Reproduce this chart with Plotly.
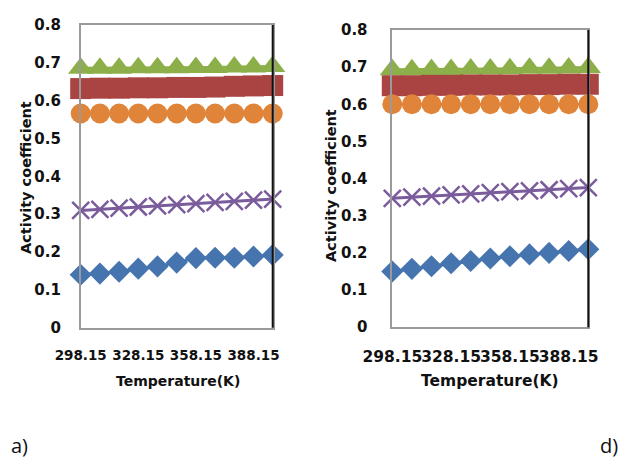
import plotly.graph_objects as go

temps = ["298.15", "308.15", "318.15", "328.15", "338.15", "348.15",
         "358.15", "368.15", "378.15", "388.15", "398.15"]
tick_labels = ["298.15", "328.15", "358.15", "388.15"]
y_ticks = [0, 0.1, 0.2, 0.3, 0.4, 0.5, 0.6, 0.7, 0.8]
y_tick_text = ["0", "0.1", "0.2", "0.3", "0.4", "0.5", "0.6", "0.7", "0.8"]

# panel a)
a_blue = [0.140, 0.143, 0.148, 0.156, 0.162, 0.172, 0.184, 0.185, 0.185, 0.188, 0.192]
a_red = [0.632, 0.633, 0.633, 0.634, 0.634, 0.635, 0.635, 0.636, 0.638, 0.639, 0.640]
a_green = [0.686, 0.686, 0.686, 0.687, 0.687, 0.687, 0.688, 0.688, 0.689, 0.689, 0.690]
a_purple = [0.310, 0.313, 0.316, 0.319, 0.322, 0.325, 0.328, 0.331, 0.334, 0.337, 0.340]
a_orange = [0.566, 0.566, 0.566, 0.566, 0.566, 0.566, 0.566, 0.566, 0.566, 0.566, 0.566]

# panel d)
d_blue = [0.150, 0.157, 0.164, 0.172, 0.178, 0.185, 0.191, 0.196, 0.200, 0.205, 0.210]
d_red = [0.650, 0.650, 0.651, 0.651, 0.652, 0.652, 0.652, 0.653, 0.653, 0.654, 0.654]
d_green = [0.693, 0.693, 0.694, 0.694, 0.695, 0.695, 0.696, 0.697, 0.697, 0.698, 0.699]
d_purple = [0.347, 0.350, 0.353, 0.356, 0.359, 0.362, 0.365, 0.367, 0.370, 0.373, 0.376]
d_orange = [0.600, 0.600, 0.600, 0.600, 0.600, 0.600, 0.600, 0.600, 0.600, 0.600, 0.600]

BLUE = "#4674AE"
RED = "#A94443"
GREEN = "#8CAF4A"
PURPLE = "#7A5C9C"
ORANGE = "#E0843A"

fig = go.Figure()

def add_series(xa, ya, vals, color, symbol, size, open_x=False):
    marker = dict(symbol=symbol, size=size, color=color, line=dict(width=0))
    if open_x:
        marker["line"] = dict(color=color, width=2.5)
    fig.add_trace(go.Scatter(
        x=temps, y=vals, xaxis=xa, yaxis=ya, mode="lines+markers",
        line=dict(color=color, width=3), marker=marker,
        cliponaxis=False, showlegend=False))

for xa, ya, b, r, g, p, o in [("x", "y", a_blue, a_red, a_green, a_purple, a_orange),
                              ("x2", "y2", d_blue, d_red, d_green, d_purple, d_orange)]:
    add_series(xa, ya, b, BLUE, "diamond", 17)
    add_series(xa, ya, g, GREEN, "triangle-up", 22)
    add_series(xa, ya, r, RED, "square", 21)
    add_series(xa, ya, p, PURPLE, "x-thin-open", 17, open_x=True)
    add_series(xa, ya, o, ORANGE, "circle", 20)

bold = lambda s: f"<b>{s}</b>"

def xaxis(domain, anchor, fsize):
    return dict(domain=domain, anchor=anchor, type="category", range=[0, 10],
                tickvals=tick_labels, ticktext=[bold(t) for t in tick_labels],
                tickfont=dict(family="DejaVu Sans", size=fsize, color="#111111"),
                tickangle=0, automargin=False,
                showgrid=False, zeroline=False, showline=True, linecolor="#9a9a9a",
                linewidth=1.5, mirror=True, ticks="", ticklabelstandoff=14)

def yaxis(domain, anchor, standoff):
    return dict(domain=domain, anchor=anchor, range=[0, 0.8], tickvals=y_ticks,
                ticktext=[bold(t) for t in y_tick_text],
                tickfont=dict(family="DejaVu Sans", size=15, color="#111111"),
                automargin=False, showgrid=False,
                zeroline=False, showline=True, linecolor="#9a9a9a", linewidth=1.5,
                mirror=True, ticks="", ticklabelstandoff=standoff)

fig.update_layout(
    width=625, height=461, margin=dict(l=0, r=0, t=0, b=0, autoexpand=False),
    paper_bgcolor="white", plot_bgcolor="white",
    xaxis=xaxis([80.7 / 625, 272.7 / 625], "y", 13.5),
    yaxis=yaxis([(461 - 327.7) / 461, (461 - 25) / 461], "x", 15),
    xaxis2=xaxis([392.3 / 625, 588.3 / 625], "y2", 15.5),
    yaxis2=yaxis([(461 - 327.2) / 461, (461 - 30) / 461], "x2", 20),
)

# darker right frame line, as in the reference
for xa, ya in [("x", "y"), ("x2", "y2")]:
    fig.add_shape(type="line", xref=f"{xa} domain", yref=f"{ya} domain",
                  x0=1, x1=1, y0=0, y1=1, line=dict(color="#111111", width=2))

annots = [
    dict(x=26, y=178, text="Activity coefficient", textangle=-90, size=14.5),
    dict(x=331, y=186, text="Activity coefficient", textangle=-90, size=14.5),
    dict(x=178, y=381, text="Temperature(K)", size=14),
    dict(x=490, y=381, text="Temperature(K)", size=15.5),
]
for a in annots:
    fig.add_annotation(xref="paper", yref="paper", x=a["x"] / 625, y=1 - a["y"] / 461,
                       text=bold(a["text"]), textangle=a.get("textangle", 0),
                       showarrow=False,
                       font=dict(family="DejaVu Sans", size=a["size"], color="#111111"),
                       xanchor="center", yanchor="middle")

labelfont = dict(family="Open Sans", size=20, color="#111111")
fig.add_annotation(xref="paper", yref="paper", x=19 / 625, y=1 - 445 / 461, text="a)",
                   showarrow=False, font=labelfont, xanchor="center", yanchor="middle")
fig.add_annotation(xref="paper", yref="paper", x=609 / 625, y=1 - 445 / 461, text="d)",
                   showarrow=False, font=labelfont, xanchor="center", yanchor="middle")

fig.write_html("out.html", config={"displayModeBar": False},
               post_script="document.body.style.margin='0';document.body.style.padding='0';")
